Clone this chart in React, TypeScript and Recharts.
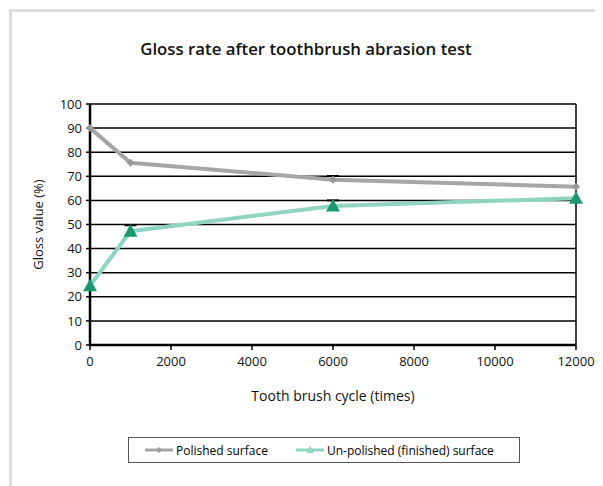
import React from 'react';
import { LineChart, Line, XAxis, YAxis, CartesianGrid, ReferenceLine, Legend } from 'recharts';

const cycles = [0, 1000, 6000, 12000];
const polished = [90, 75.6, 68.6, 65.7];
const polishedErr = [0, 0, 1.5, 0];
const unpolished = [24.6, 47.2, 57.7, 60.9];
const unpolishedErr = [0, 2.5, 2.3, 0];
const xTicks = [0, 2000, 4000, 6000, 8000, 10000, 12000];
const yTicks = [0, 10, 20, 30, 40, 50, 60, 70, 80, 90, 100];

const data = cycles.map((c, i) => ({
  cycle: c,
  polished: polished[i],
  polishedCap: polishedErr[i] > 0 ? polished[i] + polishedErr[i] : null,
  unpolished: unpolished[i],
  unpolishedCap: unpolishedErr[i] > 0 ? unpolished[i] + unpolishedErr[i] : null,
}));

const FONT = '"Open Sans", Lato, sans-serif';
const GRAY = '#a6a6a6';
const TEAL = '#8fd4c2';
const GREEN = '#1a9a6c';

const Tri = (props: any) => {
  const { cx, cy } = props;
  if (cx == null || cy == null) return null;
  const s = 7;
  return <polygon points={`${cx},${cy - s} ${cx + s},${cy + s * 0.8} ${cx - s},${cy + s * 0.8}`} fill={GREEN} />;
};

const Dia = (props: any) => {
  const { cx, cy } = props;
  if (cx == null || cy == null) return null;
  const s = 4;
  return <polygon points={`${cx},${cy - s} ${cx + s},${cy} ${cx},${cy + s} ${cx - s},${cy}`} fill="#999999" />;
};

const Cap = (props: any) => {
  const { cx, cy } = props;
  if (cx == null || cy == null || Number.isNaN(cy)) return null;
  return (
    <g>
      <line x1={cx - 6} y1={cy} x2={cx + 6} y2={cy} stroke="#000" strokeWidth={2} />
      <line x1={cx} y1={cy} x2={cx} y2={cy + 4} stroke="#000" strokeWidth={1.5} />
    </g>
  );
};

const LegendBox = () => (
  <div
    style={{
      width: 392,
      height: 26,
      border: '1.5px solid #555',
      display: 'flex',
      alignItems: 'center',
      fontFamily: FONT,
      fontSize: 12,
      color: '#000',
      boxSizing: 'border-box',
    }}
  >
    <svg width={30} height={12} style={{ marginLeft: 16 }}>
      <line x1={0} y1={6} x2={28} y2={6} stroke={GRAY} strokeWidth={3} />
      <polygon points="14,3 17,6 14,9 11,6" fill="#999" />
    </svg>
    <span style={{ marginLeft: 1 }}>Polished surface</span>
    <svg width={30} height={12} style={{ marginLeft: 28 }}>
      <line x1={0} y1={6} x2={28} y2={6} stroke={TEAL} strokeWidth={3} />
      <polygon points="14,2 18,9 10,9" fill={TEAL} />
    </svg>
    <span style={{ marginLeft: 1 }}>Un-polished (finished) surface</span>
  </div>
);

export default function App() {
  return (
    <div
      style={{
        position: 'relative',
        width: 595,
        height: 478,
        borderTop: '3px solid #dedede',
        borderLeft: '3px solid #dedede',
        marginLeft: 1,
        marginTop: 1,
        boxSizing: 'border-box',
        background: '#fff',
      }}
    >
      <div
        style={{
          position: 'absolute',
          top: 25,
          left: 0,
          width: 588,
          textAlign: 'center',
          fontFamily: FONT,
          fontWeight: 600,
          fontSize: 16.8,
          color: '#111',
        }}
      >
        Gloss rate after toothbrush abrasion test
      </div>
      <LineChart
        width={592}
        height={475}
        data={data}
        margin={{ top: 92, right: 28, left: 18, bottom: 112 }}
        style={{ position: 'absolute', top: 0, left: 0 }}
      >
        <CartesianGrid horizontal vertical={false} stroke="#000" strokeWidth={1.5} />
        <XAxis
          dataKey="cycle"
          type="number"
          domain={[0, 12000]}
          ticks={xTicks}
          tick={{ fill: '#111', fontSize: 13, fontFamily: FONT }}
          tickLine={{ stroke: '#000', strokeWidth: 1.5 }}
          tickSize={5}
          tickMargin={7}
          axisLine={{ stroke: '#000', strokeWidth: 2.5 }}
          height={30}
          label={{
            content: (p: any) => (
              <text
                x={p.viewBox.x + p.viewBox.width / 2}
                y={p.viewBox.y + 50}
                textAnchor="middle"
                dominantBaseline="central"
                fontFamily={FONT}
                fontSize={14}
                fill="#111"
              >
                Tooth brush cycle (times)
              </text>
            ),
          }}
        />
        <YAxis
          type="number"
          domain={[0, 100]}
          ticks={yTicks}
          tick={{ fill: '#111', fontSize: 13, fontFamily: FONT }}
          tickLine={{ stroke: '#000', strokeWidth: 1.5 }}
          tickSize={4}
          tickMargin={4}
          axisLine={{ stroke: '#000', strokeWidth: 2.5 }}
          width={60}
          interval={0}
          label={{
            content: (p: any) => {
              const cx = 26;
              const cy = p.viewBox.y + p.viewBox.height / 2;
              return (
                <text
                  x={cx}
                  y={cy}
                  textAnchor="middle"
                  dominantBaseline="central"
                  transform={`rotate(-90, ${cx}, ${cy})`}
                  fontFamily={FONT}
                  fontSize={13}
                  fill="#111"
                >
                  Gloss value (%)
                </text>
              );
            },
          }}
        />
        <ReferenceLine x={12000} stroke="#000" strokeWidth={1.5} />
        <Line
          dataKey="polishedCap"
          stroke="none"
          dot={<Cap />}
          activeDot={false}
          legendType="none"
          isAnimationActive={false}
        />
        <Line
          dataKey="unpolishedCap"
          stroke="none"
          dot={<Cap />}
          activeDot={false}
          legendType="none"
          isAnimationActive={false}
        />
        <Line
          dataKey="polished"
          stroke={GRAY}
          strokeWidth={4}
          dot={<Dia />}
          activeDot={false}
          isAnimationActive={false}
        />
        <Line
          dataKey="unpolished"
          stroke={TEAL}
          strokeWidth={4}
          dot={<Tri />}
          activeDot={false}
          isAnimationActive={false}
        />
        <Legend
          layout="horizontal"
          verticalAlign="middle"
          align="center"
          content={() => <LegendBox />}
          wrapperStyle={{ position: 'absolute', top: 425, left: 116, width: 392, height: 26 }}
        />
      </LineChart>
    </div>
  );
}
